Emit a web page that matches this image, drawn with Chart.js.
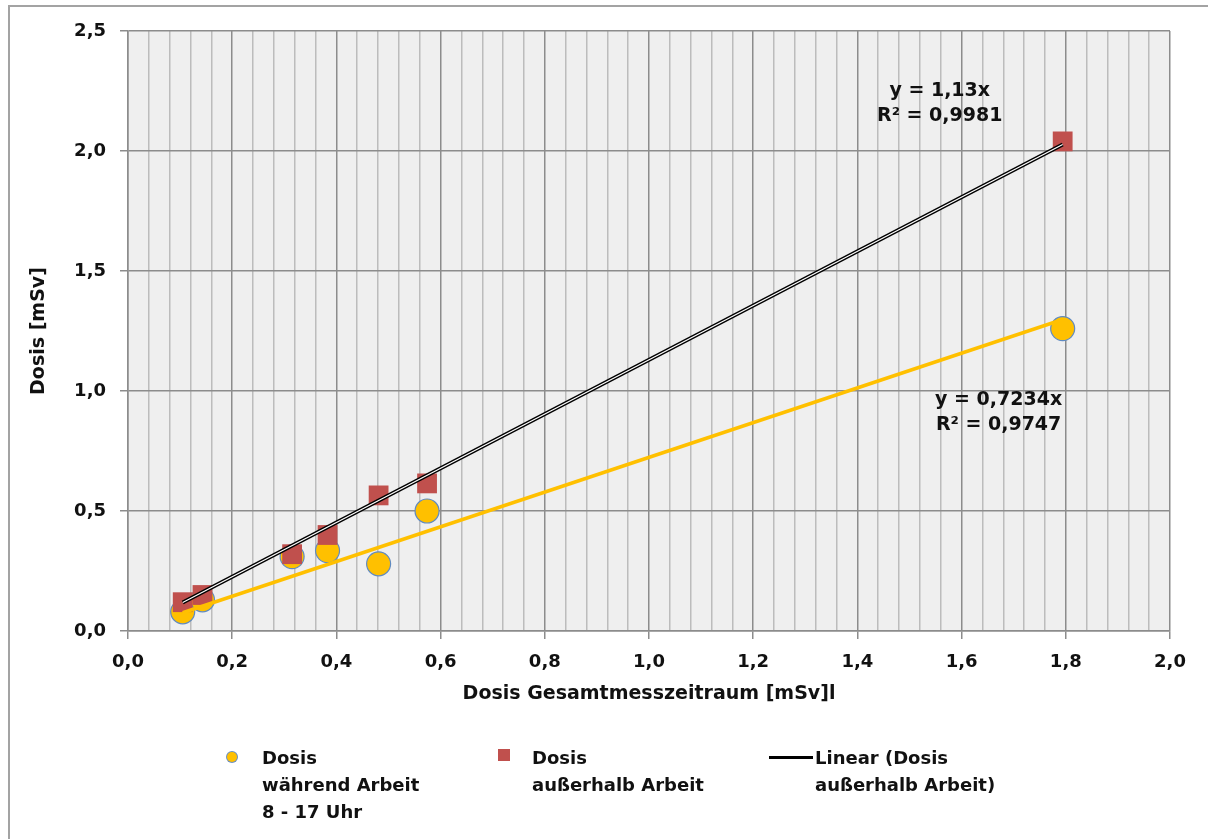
<!DOCTYPE html>
<html lang="de">
<head>
<meta charset="utf-8">
<title>Dosis während und außerhalb der Arbeit</title>
<script src="https://cdn.jsdelivr.net/npm/chart.js@4.4.1/dist/chart.umd.min.js"></script>
<style>
  html, body { margin: 0; padding: 0; background: #fff; overflow: hidden; }
  #wrap { position: relative; width: 1208px; height: 839px; overflow: hidden; }
  #frame { position: absolute; left: 8px; top: 5px; width: 1300px; height: 900px;
           border-top: 2px solid #a3a3a3; border-left: 2px solid #a3a3a3; }
  #chart { position: absolute; left: 0; top: 0; }
  .lg-text { position: absolute; top: 744px; font: bold 18px "DejaVu Sans", sans-serif;
             line-height: 27px; color: #111; white-space: nowrap; }
  .lg-mark { position: absolute; }
</style>
</head>
<body>
<div id="wrap">
  <div id="frame"></div>
  <canvas id="chart" width="1208" height="839"></canvas>

  <div class="lg-mark" style="left:227px;top:752px;width:10px;height:10px;border-radius:50%;background:#ffc000;box-shadow:0 0 0 1px #6b8fbf;"></div>
  <div class="lg-text" style="left:262px;">Dosis<br>während Arbeit<br>8 - 17 Uhr</div>

  <div class="lg-mark" style="left:498px;top:749px;width:12px;height:12px;background:#c0504d;"></div>
  <div class="lg-text" style="left:532px;">Dosis<br>außerhalb Arbeit</div>

  <div class="lg-mark" style="left:769px;top:756px;width:44px;height:3px;background:#000;"></div>
  <div class="lg-text" style="left:815px;">Linear (Dosis<br>außerhalb Arbeit)</div>
</div>

<script>
// Dosis über den Gesamtmesszeitraum (x) und Teildosen (y), in mSv
const doseTotal   = [0.105, 0.143, 0.315, 0.383, 0.481, 0.574, 1.794];
const doseWork    = [0.08, 0.13, 0.31, 0.335, 0.28, 0.50, 1.26];
const doseOffWork = [0.12, 0.15, 0.32, 0.40, 0.565, 0.615, 2.04];

// lineare Trends durch den Ursprung
const slopeWork = 0.7234, r2Work = 0.9747;
const slopeOffWork = 1.13, r2OffWork = 0.9981;

const xMin = 0, xMax = 2.0, xMinorStep = 0.04, xMajorStep = 0.2;
const yMin = 0, yMax = 2.5, yStep = 0.5;

const deNum = (v, d) => v.toFixed(d).replace('.', ',');
const deStr = v => String(v).replace('.', ',');
const isMajor = v => Math.abs(v / xMajorStep - Math.round(v / xMajorStep)) < 1e-6;

const toPoints = (xs, ys) => xs.map((x, i) => ({ x, y: ys[i] }));
const lo = Math.min(...doseTotal), hi = Math.max(...doseTotal);
const trend = slope => [{ x: lo, y: slope * lo }, { x: hi, y: slope * hi }];

const TEXT = '#111';
const FONT = '"DejaVu Sans", sans-serif';
const GRID_MAJOR = '#8c8c8c';
const GRID_MINOR = '#bcbcbc';

const plotBackground = {
  id: 'plotBackground',
  beforeDraw(chart) {
    const { ctx, chartArea: a } = chart;
    ctx.save();
    ctx.fillStyle = '#efefef';
    ctx.fillRect(a.left, a.top, a.width, a.height);
    ctx.restore();
  }
};

// Regressionsgleichungen neben den Trendlinien
const trendLabels = {
  id: 'trendLabels',
  afterDatasetsDraw(chart, args, opts) {
    const { ctx, scales: { x, y } } = chart;
    ctx.save();
    ctx.font = 'bold 19px ' + FONT;
    ctx.fillStyle = TEXT;
    ctx.textAlign = 'center';
    ctx.textBaseline = 'middle';
    opts.items.forEach(item => {
      const px = x.getPixelForValue(item.x);
      const py = y.getPixelForValue(item.y);
      item.lines.forEach((t, i) => ctx.fillText(t, px, py + i * 25));
    });
    ctx.restore();
  }
};

new Chart(document.getElementById('chart'), {
  type: 'scatter',
  data: {
    datasets: [
      {
        label: 'trend core',
        data: trend(slopeOffWork),
        showLine: true,
        borderColor: '#ffffff',
        borderWidth: 1.2,
        pointRadius: 0,
        order: 0
      },
      {
        label: 'Linear (Dosis außerhalb Arbeit)',
        data: trend(slopeOffWork),
        showLine: true,
        borderColor: '#000000',
        borderWidth: 4,
        pointRadius: 0,
        order: 1
      },
      {
        label: 'Linear (Dosis während Arbeit)',
        data: trend(slopeWork),
        showLine: true,
        borderColor: '#ffc000',
        borderWidth: 3.5,
        pointRadius: 0,
        order: 2
      },
      {
        label: 'Dosis außerhalb Arbeit',
        data: toPoints(doseTotal, doseOffWork),
        pointStyle: 'rect',
        pointRadius: 14,
        pointHoverRadius: 14,
        backgroundColor: '#c0504d',
        borderColor: '#c0504d',
        borderWidth: 0,
        order: 3
      },
      {
        label: 'Dosis während Arbeit 8 - 17 Uhr',
        data: toPoints(doseTotal, doseWork),
        pointStyle: 'circle',
        pointRadius: 12,
        pointHoverRadius: 12,
        backgroundColor: '#ffc000',
        borderColor: '#5f8ac2',
        borderWidth: 1.2,
        order: 4
      }
    ]
  },
  options: {
    responsive: false,
    animation: false,
    events: [],
    layout: { padding: { top: 31, right: 38, bottom: 128, left: 0 } },
    plugins: {
      legend: { display: false },
      tooltip: { enabled: false },
      trendLabels: {
        items: [
          { x: 1.558, y: 2.25, lines: ['y = ' + deStr(slopeOffWork) + 'x', 'R² = ' + deStr(r2OffWork)] },
          { x: 1.671, y: 0.962, lines: ['y = ' + deStr(slopeWork) + 'x', 'R² = ' + deStr(r2Work)] }
        ]
      }
    },
    scales: {
      x: {
        type: 'linear',
        min: xMin,
        max: xMax,
        afterFit: s => { s.height = 80; },
        border: { color: GRID_MAJOR, width: 1.5 },
        grid: {
          color: c => isMajor(c.tick.value) ? GRID_MAJOR : GRID_MINOR,
          lineWidth: 1.5,
          tickLength: 8,
          tickColor: c => isMajor(c.tick.value) ? GRID_MAJOR : 'rgba(0,0,0,0)'
        },
        ticks: {
          stepSize: xMinorStep,
          autoSkip: false,
          minRotation: 0,
          maxRotation: 0,
          padding: 13,
          color: TEXT,
          font: { family: FONT, size: 18, weight: 'bold' },
          callback: v => isMajor(v) ? deNum(v, 1) : ''
        },
        title: {
          display: true,
          text: 'Dosis Gesamtmesszeitraum [mSv]l',
          color: TEXT,
          font: { family: FONT, size: 19, weight: 'bold' },
          padding: { top: 0, bottom: 6 }
        }
      },
      y: {
        type: 'linear',
        min: yMin,
        max: yMax,
        afterFit: s => { s.width = 128; },
        border: { color: GRID_MAJOR, width: 1.5 },
        grid: {
          color: GRID_MAJOR,
          lineWidth: 1.5,
          tickLength: 8,
          tickColor: GRID_MAJOR
        },
        ticks: {
          stepSize: yStep,
          padding: 14,
          color: TEXT,
          font: { family: FONT, size: 18, weight: 'bold' },
          callback: v => deNum(v, 1)
        },
        title: {
          display: true,
          text: 'Dosis [mSv]',
          color: TEXT,
          font: { family: FONT, size: 19, weight: 'bold' },
          padding: { top: 28, bottom: 0 }
        }
      }
    }
  },
  plugins: [plotBackground, trendLabels]
});
</script>
</body>
</html>
